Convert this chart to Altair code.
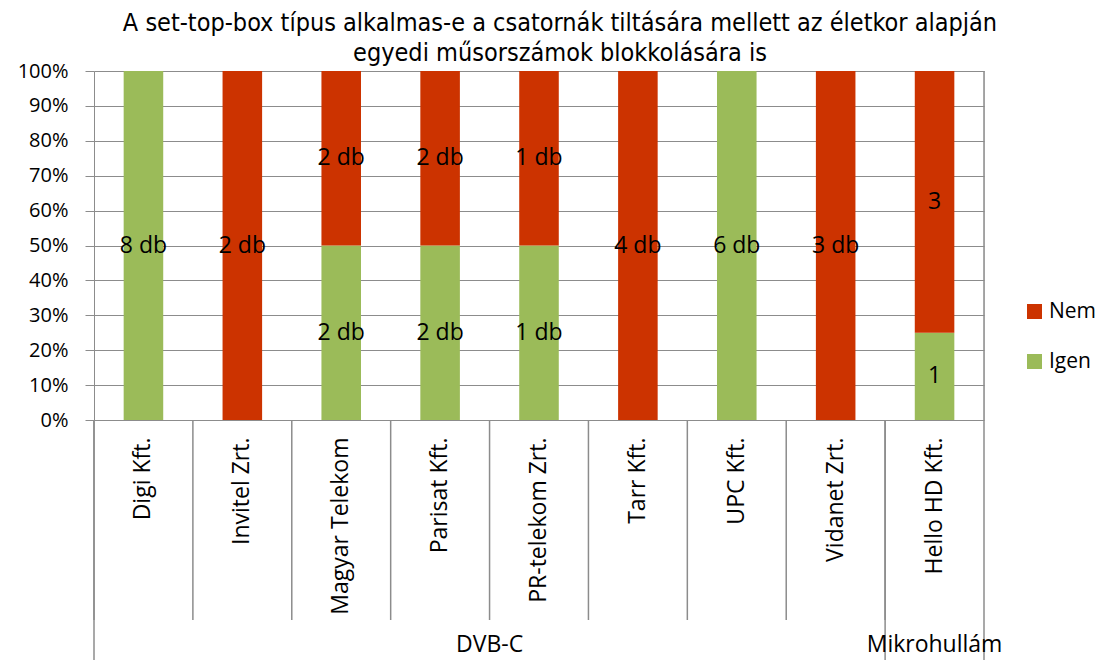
import altair as alt
import pandas as pd

# ---- data ----
categories = ["Digi Kft.", "Invitel Zrt.", "Magyar Telekom", "Parisat Kft.",
              "PR-telekom Zrt.", "Tarr Kft.", "UPC Kft.", "Vidanet Zrt.", "Hello HD Kft."]
groups = ["DVB-C", "DVB-C", "DVB-C", "DVB-C", "DVB-C", "DVB-C", "DVB-C", "DVB-C", "Mikrohullám"]
igen_counts = [8, 0, 2, 2, 1, 0, 6, 0, 1]
nem_counts = [0, 2, 2, 2, 1, 4, 0, 3, 3]
label_units = [" db", " db", " db", " db", " db", " db", " db", " db", ""]
series = ["Igen", "Nem"]
legend_order = ["Nem", "Igen"]
series_colors = {"Igen": "#9BBB59", "Nem": "#CC3300"}
y_ticks = [0, 0.1, 0.2, 0.3, 0.4, 0.5, 0.6, 0.7, 0.8, 0.9, 1.0]
title_lines = ["A set-top-box  típus alkalmas-e a csatornák tiltására mellett az életkor alapján",
               "egyedi műsorszámok blokkolására is"]

rows = []
for i, cat in enumerate(categories):
    for order, (name, counts) in enumerate(zip(series, [igen_counts, nem_counts])):
        rows.append({"category": cat, "group": groups[i], "answer": name, "order": order,
                     "count": counts[i], "label": f"{counts[i]}{label_units[i]}"})
df = pd.DataFrame(rows)

sep_df = pd.DataFrame({"category": categories})
group_start = pd.DataFrame({"category": [c for i, c in enumerate(categories) if i == 0 or groups[i] != groups[i - 1]]})
group_end = pd.DataFrame({"category": [categories[-1]]})
group_labels_dvb = pd.DataFrame({"category": ["PR-telekom Zrt."], "text": ["DVB-C"]})
group_labels_mikro = pd.DataFrame({"category": ["Hello HD Kft."], "text": ["Mikrohullám"]})

FONT = "Open Sans"
TITLE_FONT = "DejaVu Sans Condensed"
GRAY = "#8C8C8C"
W, H = 890, 349

x_scale = alt.Scale(domain=categories, paddingInner=0, paddingOuter=0)
x_axis = alt.Axis(title=None, labelAngle=270, ticks=False, domain=False, labelPadding=17,
                  labelFontSize=23, labelFont=FONT, labelColor="black", labelLimit=400)
y_scale = alt.Scale(domain=[0, 1])
y_axis = alt.Axis(title=None, values=y_ticks, format=".0%", grid=True, gridColor=GRAY,
                  domainColor=GRAY, tickColor=GRAY, tickSize=9, labelPadding=17,
                  labelOverlap=False, labelFontSize=20, labelFont=FONT, labelColor="black")

base = alt.Chart(df).transform_stack(
    stack="count", groupby=["category"], as_=["y0", "y1"], offset="normalize",
    sort=[alt.SortField("order", "ascending")]
).transform_calculate(mid="(datum.y0 + datum.y1) / 2")

bars = base.mark_bar(width=alt.RelativeBandSize(0.4)).encode(
    x=alt.X("category:N", sort=categories, scale=x_scale, axis=x_axis),
    y=alt.Y("y0:Q", scale=y_scale, axis=y_axis),
    y2="y1:Q",
    color=alt.Color("answer:N",
                    scale=alt.Scale(domain=legend_order, range=[series_colors[s] for s in legend_order]),
                    legend=alt.Legend(title=None, orient="none", legendX=930, legendY=230,
                                      symbolType="square", symbolSize=225, symbolStrokeWidth=0,
                                      labelFontSize=21, labelFont=FONT, labelColor="black",
                                      rowPadding=28, labelOffset=4, padding=0)),
)

labels = base.transform_filter("datum.count > 0").mark_text(
    font=FONT, fontSize=23, color="black"
).encode(
    x=alt.X("category:N", sort=categories, scale=x_scale, axis=x_axis),
    y=alt.Y("mid:Q", scale=y_scale, axis=y_axis),
    text="label:N",
)

seps = alt.Chart(sep_df).mark_rule(color=GRAY, strokeWidth=1.5).encode(
    x=alt.X("category:N", sort=categories, bandPosition=0),
    y=alt.value(H), y2=alt.value(H + 200),
)
long_start = alt.Chart(group_start).mark_rule(color=GRAY, strokeWidth=1.5).encode(
    x=alt.X("category:N", sort=categories, bandPosition=0),
    y=alt.value(H), y2=alt.value(H + 260),
)
long_end = alt.Chart(group_end).mark_rule(color=GRAY, strokeWidth=1.5).encode(
    x=alt.X("category:N", sort=categories, bandPosition=1),
    y=alt.value(0), y2=alt.value(H + 260),
)
glab1 = alt.Chart(group_labels_dvb).mark_text(font=FONT, fontSize=23, color="black", baseline="alphabetic").encode(
    x=alt.X("category:N", sort=categories, bandPosition=0),
    y=alt.value(H + 232), text="text:N",
)
glab2 = alt.Chart(group_labels_mikro).mark_text(font=FONT, fontSize=23, color="black", baseline="alphabetic").encode(
    x=alt.X("category:N", sort=categories, bandPosition=0.5),
    y=alt.value(H + 232), text="text:N",
)

chart = alt.layer(bars, labels, seps, long_start, long_end, glab1, glab2).properties(
    width=W, height=H,
    title=alt.TitleParams(text=title_lines, font=TITLE_FONT, fontSize=25,
                          fontWeight="normal", color="black", lineHeight=30, anchor="middle",
                          dx=21, offset=-5),
    autosize=alt.AutoSizeParams(type="none"),
    padding={"left": 86, "top": 63, "right": 112, "bottom": 240},
).configure_view(stroke=None).configure(font=FONT)

chart.save("out.html", embed_options={"renderer": "svg", "actions": False})
